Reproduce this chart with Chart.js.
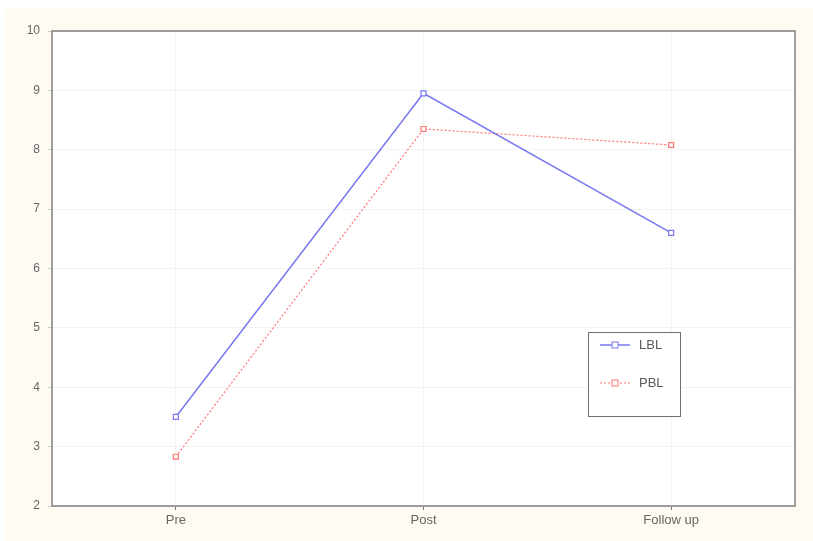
<!DOCTYPE html>
<html>
<head>
<meta charset="utf-8">
<script src="https://cdn.jsdelivr.net/npm/chart.js@4"></script>
<style>
  html, body { margin: 0; padding: 0; background: #ffffff; }
  #wrap { width: 813px; height: 541px; }
</style>
</head>
<body>
<div id="wrap"><canvas id="chart" width="813" height="541"></canvas></div>
<script>
const categories = ['Pre', 'Post', 'Follow up'];
const lblValues = [3.5, 8.95, 6.6];
const pblValues = [2.83, 8.35, 8.08];
const yTicks = [2, 3, 4, 5, 6, 7, 8, 9, 10];

const blue = '#7878f0';
const red = '#ff7474';
const fontFamily = '"Liberation Sans", Arial, sans-serif';

// cream page + white plot area + frame + legend box
const framePlugin = {
    id: 'frame',
    beforeDraw(chart) {
        const c = chart.ctx;
        const a = chart.chartArea;
        c.save();
        c.fillStyle = '#fffbf3';
        c.fillRect(5, 9, chart.width - 5, chart.height - 9);
        c.fillStyle = '#ffffff';
        c.fillRect(a.left, a.top, a.right - a.left, a.bottom - a.top);
        c.restore();
    },
    afterDraw(chart) {
        const c = chart.ctx;
        const a = chart.chartArea;
        c.save();
        c.strokeStyle = '#808080';
        c.lineWidth = 1.5;
        c.strokeRect(a.left, a.top, a.right - a.left, a.bottom - a.top);

        // legend box
        const lx = 588, ly = 332, lw = 92, lh = 84;
        c.fillStyle = '#ffffff';
        c.fillRect(lx, ly, lw, lh);
        c.strokeStyle = '#707070';
        c.lineWidth = 1;
        c.strokeRect(lx + 0.5, ly + 0.5, lw, lh);
        c.font = '13px ' + fontFamily;
        c.textBaseline = 'middle';
        chart.data.datasets.forEach((ds, i) => {
            const y = ly + 13 + i * 38;
            c.strokeStyle = ds.borderColor;
            c.lineWidth = ds.borderWidth;
            c.setLineDash(ds.borderDash || []);
            c.beginPath();
            c.moveTo(lx + 12, y);
            c.lineTo(lx + 42, y);
            c.stroke();
            c.setLineDash([]);
            c.lineWidth = 1;
            c.fillStyle = '#ffffff';
            c.fillRect(lx + 24, y - 3, 6, 6);
            c.strokeRect(lx + 24, y - 3, 6, 6);
            c.fillStyle = '#5a5a5a';
            c.fillText(ds.label, lx + 51, y);
        });
        c.restore();
    }
};

new Chart(document.getElementById('chart'), {
    type: 'line',
    data: {
        labels: categories,
        datasets: [
            {
                label: 'LBL',
                data: lblValues,
                borderColor: blue,
                borderWidth: 1.5,
                pointStyle: 'rect',
                pointRadius: 3.5,
                pointBorderWidth: 1.2,
                pointBackgroundColor: '#ffffff',
                pointBorderColor: blue,
                tension: 0
            },
            {
                label: 'PBL',
                data: pblValues,
                borderColor: red,
                borderWidth: 1.2,
                borderDash: [2, 2],
                pointStyle: 'rect',
                pointRadius: 3.5,
                pointBorderWidth: 1.2,
                pointBackgroundColor: '#ffffff',
                pointBorderColor: red,
                tension: 0
            }
        ]
    },
    options: {
        responsive: false,
        animation: false,
        layout: { padding: { left: 0, top: 31, right: 18, bottom: 0 } },
        plugins: {
            legend: { display: false },
            tooltip: { enabled: false }
        },
        scales: {
            x: {
                offset: true,
                afterFit: s => { s.height = 35; },
                grid: {
                    color: '#f3f3f3',
                    offset: false,
                    drawTicks: true,
                    tickLength: 4,
                    tickColor: '#777777'
                },
                border: { display: false },
                ticks: {
                    color: '#666666',
                    padding: 3,
                    font: { family: fontFamily, size: 13 }
                }
            },
            y: {
                min: 2,
                max: 10,
                afterFit: s => { s.width = 52; },
                afterBuildTicks: s => { s.ticks = yTicks.map(v => ({ value: v })); },
                grid: {
                    color: '#f3f3f3',
                    tickLength: 4,
                    tickColor: '#cccccc'
                },
                border: { display: false },
                ticks: {
                    color: '#666666',
                    padding: 8,
                    font: { family: fontFamily, size: 12 }
                }
            }
        }
    },
    plugins: [framePlugin]
});
</script>
</body>
</html>
